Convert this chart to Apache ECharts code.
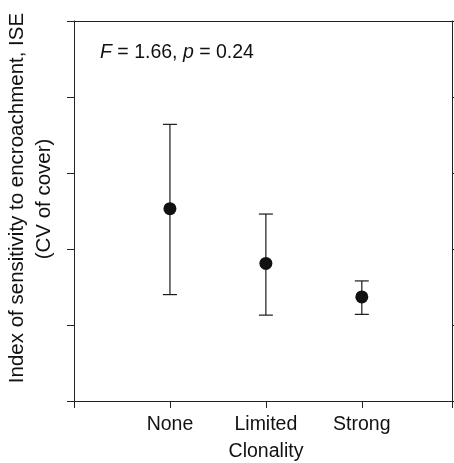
<!DOCTYPE html>
<html>
<head>
<meta charset="utf-8">
<script src="https://cdn.jsdelivr.net/npm/echarts@6/dist/echarts.min.js"></script>
<style>
html, body { margin: 0; padding: 0; background: #fff; }
#chart { width: 454px; height: 463px; }
</style>
</head>
<body>
<div id="chart"></div>
<script>
// 类别 & 数据
var categories = ['None', 'Limited', 'Strong'];
var catPos = [1, 2, 3];
var means = [2.53, 1.81, 1.37];
var upper = [3.64, 2.46, 1.58];
var lower = [1.40, 1.13, 1.14];

var yTitle1 = 'Index of sensitivity to encroachment, ISE';
var yTitle2 = '(CV of cover)';

var axisColor = '#222';
var textColor = '#111';
var font = '"Liberation Sans", Arial, sans-serif';
var fs = 19.5;

var meanData = [];
var errData = [];
for (var i = 0; i < categories.length; i++) {
  meanData.push([catPos[i], means[i]]);
  errData.push([catPos[i], lower[i], upper[i]]);
}

var chart = echarts.init(document.getElementById('chart'));

var option = {
  animation: false,
  title: {
    text: '{i|F} = 1.66, {i|p} = 0.24',
    left: 95,
    top: 38,
    textStyle: {
      fontFamily: font,
      fontSize: fs,
      fontWeight: 'normal',
      color: textColor,
      rich: {
        i: { fontFamily: font, fontSize: fs, fontStyle: 'italic', color: textColor }
      }
    }
  },
  // y轴标题 两行, 旋转
  graphic: [{
    type: 'text',
    x: 17,
    y: 198,
    rotation: Math.PI / 2,
    style: {
      text: yTitle1, font: '20.5px ' + font, fill: textColor,
      align: 'center', verticalAlign: 'middle'
    }
  }, {
    type: 'text',
    x: 44,
    y: 199,
    rotation: Math.PI / 2,
    style: {
      text: yTitle2, font: '20.5px ' + font, fill: textColor,
      align: 'center', verticalAlign: 'middle'
    }
  }],
  grid: { left: 74, right: 2, top: 21, bottom: 62, outerBoundsMode: 'none' },
  xAxis: [{
    type: 'value',
    min: 0,
    max: 3.94,
    interval: 1,
    name: 'Clonality',
    nameLocation: 'middle',
    nameGap: 41,
    nameTextStyle: { fontFamily: font, fontSize: fs, color: textColor, padding: [0, 0, 0, 6] },
    splitLine: { show: false },
    axisLine: { onZero: false, lineStyle: { color: axisColor, width: 1 } },
    axisTick: { show: true, length: 7, lineStyle: { color: axisColor } },
    axisLabel: {
      fontFamily: font, fontSize: fs, color: textColor, margin: 14,
      formatter: function (v) {
        var k = catPos.indexOf(v);
        return k >= 0 ? categories[k] : '';
      }
    }
  }, {
    type: 'value',
    position: 'top',
    min: 0,
    max: 3.94,
    splitLine: { show: false },
    axisLine: { show: true, onZero: false, lineStyle: { color: axisColor, width: 1 } },
    axisTick: { show: false },
    axisLabel: { show: false }
  }],
  yAxis: [{
    type: 'value',
    min: 0,
    max: 5,
    interval: 1,
    splitLine: { show: false },
    axisLine: { show: true, onZero: false, lineStyle: { color: axisColor, width: 1 } },
    axisTick: { show: true, length: 7, lineStyle: { color: axisColor } },
    axisLabel: { show: false }
  }, {
    type: 'value',
    position: 'right',
    min: 0,
    max: 5,
    interval: 1,
    splitLine: { show: false },
    axisLine: { show: true, onZero: false, lineStyle: { color: axisColor, width: 1 } },
    axisTick: { show: true, length: 4, lineStyle: { color: axisColor } },
    axisLabel: { show: false }
  }],
  series: [{
    type: 'custom',
    name: 'error',
    data: errData,
    z: 2,
    renderItem: function (params, api) {
      var x = api.value(0);
      var lo = api.coord([x, api.value(1)]);
      var hi = api.coord([x, api.value(2)]);
      var hw = 7;
      var st = { stroke: '#1a1a1a', lineWidth: 1.2 };
      return {
        type: 'group',
        children: [
          { type: 'line', shape: { x1: lo[0], y1: lo[1], x2: hi[0], y2: hi[1] }, style: st },
          { type: 'line', shape: { x1: hi[0] - hw, y1: hi[1], x2: hi[0] + hw, y2: hi[1] }, style: st },
          { type: 'line', shape: { x1: lo[0] - hw, y1: lo[1], x2: lo[0] + hw, y2: lo[1] }, style: st }
        ]
      };
    }
  }, {
    type: 'scatter',
    name: 'mean',
    data: meanData,
    symbol: 'circle',
    symbolSize: 13,
    z: 3,
    itemStyle: { color: '#111', opacity: 1 }
  }]
};

chart.setOption(option);
</script>
</body>
</html>
